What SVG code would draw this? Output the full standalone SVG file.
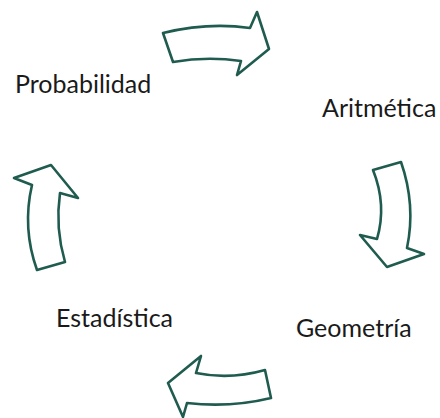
<svg xmlns="http://www.w3.org/2000/svg" width="440" height="418" viewBox="0 0 440 418">
<style>
.arr{fill:#ffffff;stroke:#1f5c4f;stroke-width:2.6;stroke-linejoin:round;stroke-linecap:round}
.lbl{font-family:Lato,"Open Sans","Liberation Sans",sans-serif;font-size:25px;fill:#1a1a1a}
</style>
<rect width="440" height="418" fill="#ffffff"/>
<g id="connectors">
<path id="arrow-top" class="arr" d="M163,33 Q208,22 250,28 L257,12 L269,49 L237,75 L241,61 Q207,56 173,62 Z"/>
<path id="arrow-right" class="arr" d="M373,170 L401,162 Q416,205 407,248 L424,254 L387,267 L360,235 L377,239 Q387,205 373,170 Z"/>
<path id="arrow-bottom" class="arr" d="M168,383 L201,356 L196,373 Q230,380 265,370 L271,398 Q230,408 187,403 L183,417 Z"/>
<path id="arrow-left" class="arr" d="M14,178 L51,165 L78,198 L60,193 Q55,228 65,262 L37,270 Q22,228 32,185 Z"/>
</g>
<g id="node-probabilidad"><text class="lbl" x="15" y="93">Probabilidad</text></g>
<g id="node-aritmetica"><text class="lbl" x="322" y="117">Aritmética</text></g>
<g id="node-geometria"><text class="lbl" x="296" y="337">Geometría</text></g>
<g id="node-estadistica"><text class="lbl" x="56" y="327">Estadística</text></g>
</svg>
